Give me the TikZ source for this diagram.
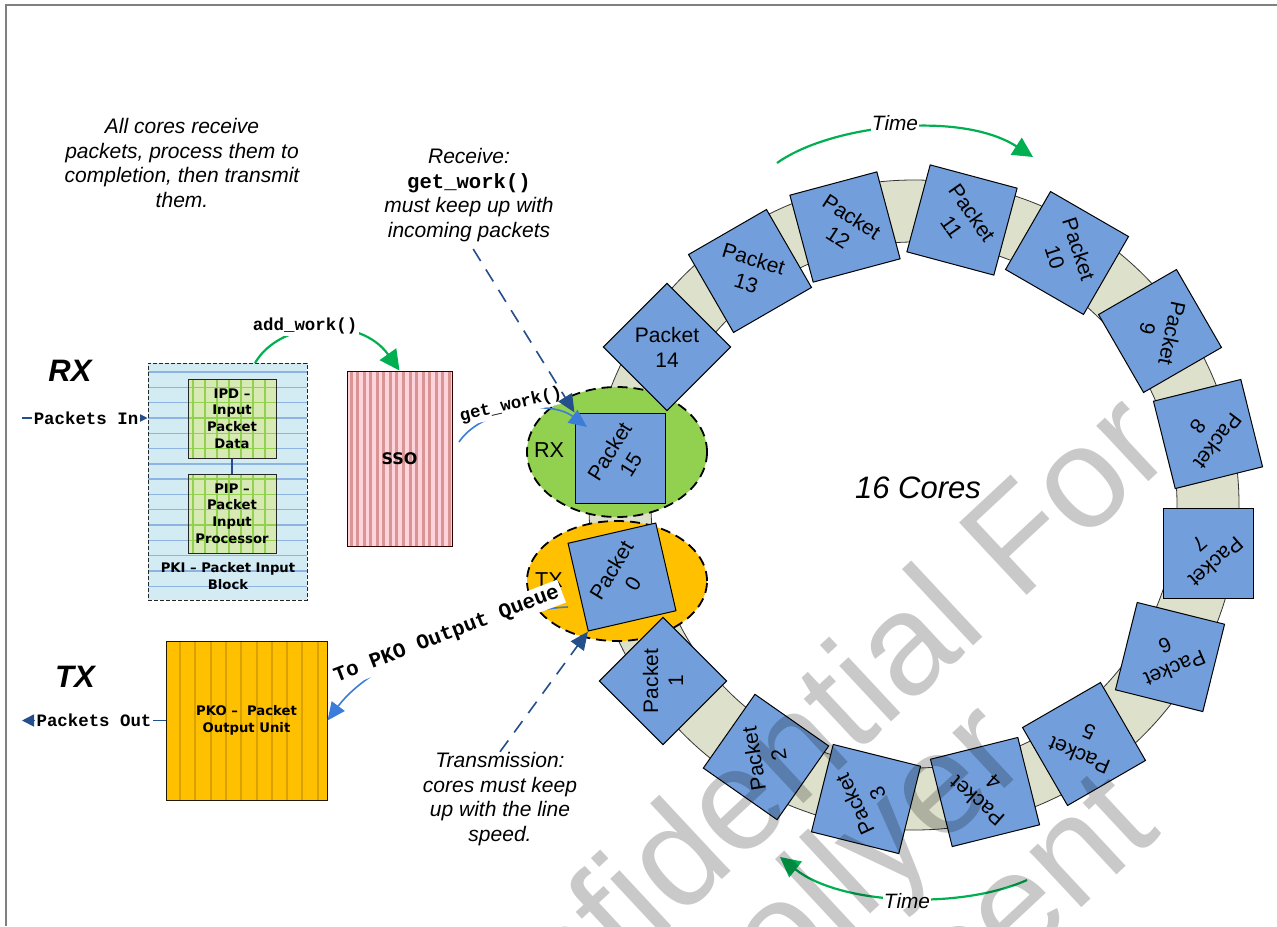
\documentclass[tikz,border=0pt]{standalone}
\usepackage{fontspec}
\setmainfont{Liberation Sans}
\setmonofont{Liberation Mono}
\newfontfamily\boxfont{DejaVu Sans}
\usetikzlibrary{shapes.geometric,arrows.meta,calc}
\definecolor{pkt}{HTML}{729FDB}
\definecolor{ringc}{HTML}{DDE1CB}
\definecolor{rxg}{HTML}{92D050}
\definecolor{txo}{HTML}{FFC000}
\definecolor{tgreen}{HTML}{00B050}
\definecolor{dblue}{HTML}{254F8A}
\definecolor{mblue}{HTML}{3B7DD8}
\definecolor{pkibg}{HTML}{D3EBF2}
\definecolor{pkiln}{HTML}{8DB3E2}
\definecolor{ipdbg}{HTML}{D7EAB4}
\definecolor{ipdln}{HTML}{92D050}
\definecolor{ssobg}{HTML}{FFD3DB}
\definecolor{ssoln}{HTML}{D99594}
\definecolor{pkoln}{HTML}{D9A200}
\definecolor{framec}{HTML}{808080}
\begin{document}
\begin{tikzpicture}[x=0.5pt,y=-0.5pt,
  pbox/.style={draw=black, line width=0.5pt, fill=pkt, minimum size=45pt, inner sep=0pt},
  ptxt/.style={align=center, font=\fontsize{10.5}{12.5}\selectfont, inner sep=0pt},
  note/.style={align=center, font=\fontsize{10.5}{12.35}\selectfont\itshape, inner sep=0pt},
  mlabel/.style={font=\fontsize{8.7}{10}\selectfont\ttfamily\bfseries, fill=white, inner sep=1pt},
  qlabel/.style={font=\fontsize{10.5}{12}\selectfont\ttfamily\bfseries, fill=white, inner sep=1.5pt},
  boxlbl/.style={align=center, font=\boxfont\bfseries\fontsize{6.6}{8.35}\selectfont, inner sep=0pt},
  bignote/.style={font=\fontsize{15.5}{18}\selectfont\bfseries\itshape},
  tlabel/.style={font=\fontsize{10.4}{12}\selectfont\itshape, fill=white, inner sep=0.5pt},
  garrow/.style={draw=tgreen, line width=1.1pt, -{Triangle[length=10pt,width=10pt]}},
  tarrow/.style={draw=tgreen, line width=1.1pt, -{Triangle[length=10pt,width=10pt]}},
  darrow/.style={draw=dblue, line width=0.8pt, dash pattern=on 7pt off 5pt, -{Triangle[length=9pt,width=8pt]}},
  barrow/.style={draw=mblue, line width=0.8pt, -{Triangle[length=9pt,width=8pt]}},
  inarrow/.style={draw=dblue, line width=0.8pt, -{Triangle[length=6pt,width=6pt]}},
  wm/.style={font=\fontsize{72}{76}\selectfont, text=black, text opacity=0.21, inner sep=0pt}
]
\useasboundingbox (0,0) rectangle (1277,926);
\fill[white] (0,0) rectangle (1277,926);
% frame
\draw[framec, line width=1.1pt] (1277,5) -- (6,5) -- (6,926);

% ring
\filldraw[fill=ringc, draw=black!80, line width=0.4pt, even odd rule]
  (914,505) circle[radius=325] (914,505) circle[radius=263];

% RX / TX ellipses
\node[ellipse, draw=black, fill=rxg, line width=0.9pt, dash pattern=on 5pt off 3pt,
      minimum width=90pt, minimum height=65pt, inner sep=0pt] (rxe) at (617,452) {};
\node[ellipse, draw=black, fill=txo, line width=0.9pt, dash pattern=on 5pt off 3pt,
      minimum width=90pt, minimum height=60pt, inner sep=0pt] (txe) at (617,581) {};
\node[font=\fontsize{10.8}{12}\selectfont, inner sep=0pt] (rxl) at (549,450) {RX};
\node[font=\fontsize{10.8}{12}\selectfont, inner sep=0pt] (txl) at (549,580) {TX};

% packets
\foreach \k/\cx/\cy/\sr/\tr in {15/620/458/0/58, 0/622/577/13/59, 1/663/681/45/90,
  2/766/757/-35/99, 3/866/799/-14/115, 4/985/792/14/139, 5/1084/744/30/157,
  6/1170/657/-14/-157, 7/1208/553/0/-139, 8/1208/434/14/-127, 9/1160/331/30/-102,
  10/1067/253/-30/-72, 11/962/220/-15/-55, 12/845/227/15/-33, 13/750/271/30/-17,
  14/667/347/45/0}{
  \node[pbox, rotate=\sr] (p\k) at (\cx,\cy) {};
  \node[ptxt, rotate=\tr] (pt\k) at (p\k.center) {Packet\\\k};
}

\node[font=\fontsize{15.5}{18}\selectfont\itshape] (cores) at (918,488) {16 Cores};

% Time arrows
\coordinate (ta1) at (777,163);
\coordinate (ta2) at (1033,157);
\draw[tarrow] (ta1) .. controls (830,125) and (960,110) .. (ta2);
\node[tlabel] (tl1) at (895,123) {Time};
\coordinate (tb1) at (1027,880);
\coordinate (tb2) at (780,857);
\draw[tarrow] (tb1) .. controls (960,910) and (840,905) .. (tb2);
\node[tlabel] (tl2) at (907,901) {Time};

% PKI block
\fill[pkibg] (148,363) rectangle (307,600);
\foreach \k in {0,...,14} \draw[pkiln, line width=0.7pt] (148,{372+15.3*\k}) -- (307,{372+15.3*\k});
\begin{scope}
  \clip (188,379) rectangle (276,458);
  \fill[ipdbg] (188,379) rectangle (276,458);
  \foreach \k in {0,...,14} \draw[ipdln, line width=0.7pt] (150,{372+15.3*\k}) -- (310,{372+15.3*\k});
  \foreach \xx in {193,205,...,265} \draw[ipdln, line width=0.7pt] (\xx,370) -- (\xx,560);
\end{scope}
\begin{scope}
  \clip (188,474) rectangle (276,553);
  \fill[ipdbg] (188,474) rectangle (276,553);
  \foreach \k in {0,...,14} \draw[ipdln, line width=0.7pt] (150,{372+15.3*\k}) -- (310,{372+15.3*\k});
  \foreach \xx in {193,205,...,265} \draw[ipdln, line width=0.7pt] (\xx,370) -- (\xx,560);
\end{scope}
\node[draw=black!85, line width=0.5pt, minimum width=44pt, minimum height=39.5pt,
      boxlbl] (ipd) at (232,418.5) {IPD –\\Input\\Packet\\Data};
\node[draw=black!85, line width=0.5pt, minimum width=44pt, minimum height=39.5pt,
      boxlbl] (pip) at (232,513.5) {PIP –\\Packet\\Input\\Processor};
\draw[dblue, line width=0.8pt] (ipd.south) -- (pip.north);
\node[draw=black!85, line width=0.5pt, dash pattern=on 2pt off 1pt,
      minimum width=79.5pt, minimum height=118.5pt, inner sep=0pt] (pki) at (227.5,481.5) {};
\node[boxlbl] (pkil) at (228,576) {PKI – Packet Input\\Block};

% SSO
\fill[ssobg] (347,371) rectangle (452,546);
\foreach \i in {0,...,15} \fill[ssoln] ({349.5+6.56*\i},371) rectangle ++(3,175);
\node[draw=black!70!red!60!black, line width=0.5pt, minimum width=52.5pt, minimum height=87.5pt,
      inner sep=0pt, font=\boxfont\bfseries\fontsize{8}{9}\selectfont] (sso) at (399.5,458.5) {SSO};

% PKO
\fill[txo] (166,641) rectangle (327,800);
\foreach \xx in {179,194.3,...,320} \fill[pkoln] (\xx,641) rectangle ++(2,159);
\node[draw=black!70!txo!40!black, line width=0.5pt, minimum width=80.5pt, minimum height=79.5pt,
      inner sep=0pt, boxlbl, font=\boxfont\bfseries\fontsize{6.6}{8.8}\selectfont]
      (pko) at (246.5,720.5) {PKO –\ \ Packet\\Output Unit};

% RX / TX big labels
\node[bignote] (rxbig) at (70,371) {RX};
\node[bignote] (txbig) at (75,677) {TX};

% notes
\node[note] (allc) at (182,163) {All cores receive\\packets, process them to\\completion, then transmit\\them.};
\node[note] (recv) at (469,195) {Receive:\\{\upshape\ttfamily\bfseries\fontsize{10.3}{12}\selectfont get\_work()}\\must keep up with\\incoming packets};
\node[note] (trans) at (500,799) {Transmission:\\cores must keep\\up with the line\\speed.};

% add_work
\coordinate (aw1) at (255,363);
\draw[garrow] (aw1) .. controls (280,320) and (360,315) .. (sso.north);
\node[mlabel] (awl) at (305,326) {add\_work()};

% get_work
\coordinate (gw1) at (459,442);
\coordinate (gw2) at (587,427);
\draw[barrow] (gw1) .. controls (480,410) and (548,398) .. (gw2);
\node[mlabel, rotate=13] (gwl) at (511,405) {get\_work()};

% receive dashed
\draw[darrow, shorten <=4pt] (recv.south) -- (p15.north west);

% transmission dashed
\draw[darrow] (trans.north) -- (p0.south west);

% to PKO
\coordinate (tq1) at (568,607);
\draw[barrow] (tq1) .. controls (520,608) and (380,650) .. (pko.east);
\node[qlabel, rotate=21] (tql) at (447,635) {To PKO Output Queue};

% Packets in / out
\coordinate (inS) at (22,418);
\draw[inarrow] (inS) -- (inS -| pki.west);
\node[mlabel] (pinl) at (86,418) {Packets In};
\coordinate (outE) at (22,720.5);
\draw[inarrow] (pko.west) -- (outE);
\node[mlabel] (poutl) at (94,720.5) {Packets Out};

% watermark
\begin{scope}
  \clip (0,0) rectangle (1277,926);
  \node[wm, rotate=43, anchor=east] (wm1) at (1142,418) {Confidential For};
  \node[wm, rotate=43, anchor=east] (wm2) at (1008,735) {Collyer};
  \node[wm, rotate=43, anchor=east] (wm3) at (1128,795) {Vincent};
\end{scope}
\end{tikzpicture}
\end{document}
